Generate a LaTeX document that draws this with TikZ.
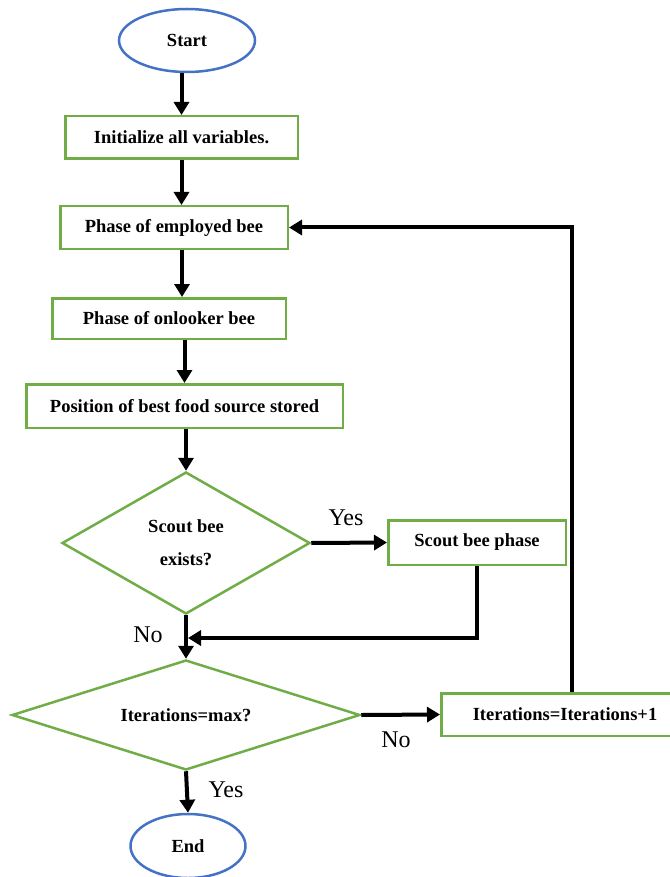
\documentclass[tikz,border=0pt]{standalone}
\usepackage{fontspec}
\setmainfont{Liberation Serif}
\usetikzlibrary{shapes.geometric,arrows.meta}
\definecolor{boxgreen}{HTML}{70AD47}
\definecolor{ovalblue}{HTML}{4472C4}
\begin{document}
\begin{tikzpicture}[x=1pt,y=-1pt,
  txt/.style={font=\fontsize{18.5}{21}\selectfont\bfseries},
  box/.style={txt,draw=boxgreen,line width=2.5pt,inner sep=0pt},
  oval/.style={txt,ellipse,draw=ovalblue,line width=2.5pt,inner sep=0pt},
  decision/.style={txt,diamond,draw=boxgreen,line width=2.5pt,inner sep=0pt,align=center},
  arr/.style={line width=4pt,-{Triangle[length=13pt,width=15pt]}},
  lbl/.style={font=\fontsize{24}{26}\selectfont,inner sep=0pt}]
\useasboundingbox (0,0) rectangle (669,877);

% process blocks
\node[oval,minimum width=136pt,minimum height=63pt] (start) at (187,40.5) {Start};
\node[box,minimum width=232.5pt,minimum height=42.5pt] (init) at (181.5,137.5) {Initialize all variables.};
\node[box,minimum width=227.5pt,minimum height=42.5pt] (emp) at (174,227.5) {Phase of employed bee};
\node[box,minimum width=233.5pt,minimum height=40.5pt] (onl) at (169,318.5) {Phase of onlooker bee};
\node[box,minimum width=316.5pt,minimum height=43.5pt] (pos) at (184.5,406) {Position of best food source stored};
\node[decision,minimum width=248pt,minimum height=142pt,aspect=1.75] (d1) at (186,543) {Scout bee\\[12pt]exists?};
\node[box,minimum width=177.5pt,minimum height=44.5pt] (scout) at (477,542.5) {Scout bee phase};
\node[decision,minimum width=348pt,minimum height=110pt,aspect=3.16] (d2) at (186,715) {Iterations=max?};
\node[box,minimum width=247.5pt,minimum height=42.5pt] (iter) at (565,714.5) {Iterations=Iterations+1};
\node[oval,minimum width=115pt,minimum height=64pt] (end) at (188,846) {End};
\coordinate (merge) at (186,638);

% connectors
\draw[arr] (start.south -| init.north) -- (init.north);
\draw[arr] (init.south) -- (init.south |- emp.north);
\draw[arr] ([xshift=8pt]emp.south) -- ([xshift=8pt]emp.south |- onl.north);
\draw[arr] (onl.south -| pos.north) -- (pos.north);
\draw[arr] (pos.south -| d1.north) -- (d1.north);
\draw[arr] (d1.east) -- (scout.west);
\draw[arr] (d1.south) -- (d2.north);
\draw[arr,shorten >=2pt] (scout.south) |- (merge);
\draw[arr] (d2.east) -- (iter.west);
\draw[arr] (d2.south) -- (end.north);
\draw[arr] ([xshift=7pt]iter.north) |- (emp.east);

% branch labels
\node[lbl] (yes1) at (346,518) {Yes};
\node[lbl] (no1) at (148,635) {No};
\node[lbl] (no2) at (396,740) {No};
\node[lbl] (yes2) at (226,790) {Yes};
\end{tikzpicture}
\end{document}
